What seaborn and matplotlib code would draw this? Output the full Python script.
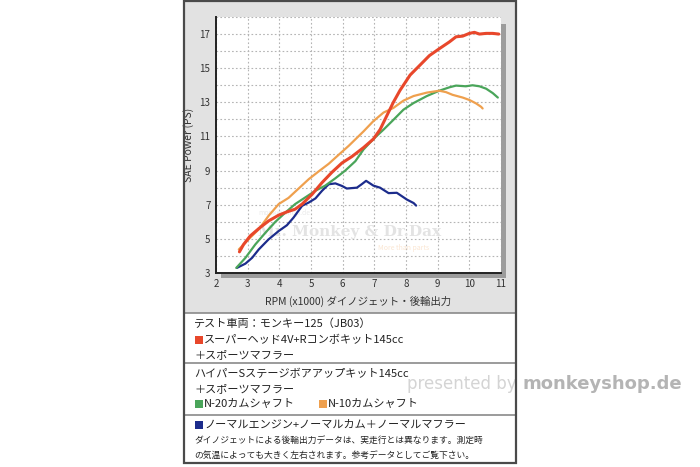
import matplotlib
matplotlib.use("Agg")
from matplotlib import pyplot as plt
from matplotlib.patches import Rectangle
from matplotlib.ticker import MultipleLocator
import pandas as pd
import seaborn as sns

# dyno curves (rpm x1000, PS)
red_rpm = [2.74, 2.87, 3.08, 3.35, 3.66, 3.98, 4.24, 4.5, 4.72, 5.03, 5.35, 5.66, 5.98, 6.29, 6.66,
           6.97, 7.18, 7.39, 7.6, 7.81, 8.13, 8.42, 8.74, 9.05, 9.37, 9.58, 9.79, 10.0, 10.16, 10.32,
           10.53, 10.74, 10.93]
red_ps = [4.24, 4.67, 5.17, 5.6, 6.05, 6.39, 6.58, 6.74, 7.04, 7.6, 8.3, 8.9, 9.45, 9.82, 10.35,
          10.85, 11.4, 12.2, 13.0, 13.7, 14.6, 15.14, 15.74, 16.14, 16.54, 16.84, 16.88, 17.04, 17.1, 17.0,
          17.04, 17.04, 17.0]

green_rpm = [2.64, 2.93, 3.24, 3.56, 3.87, 4.19, 4.5, 4.82, 5.14, 5.45, 5.77, 6.08, 6.4, 6.66, 6.97,
             7.29, 7.6, 7.92, 8.24, 8.66, 9.05, 9.37, 9.58, 9.89, 10.1, 10.32, 10.53, 10.74, 10.9]
green_ps = [3.3, 3.89, 4.67, 5.36, 5.99, 6.54, 7.04, 7.43, 7.82, 8.12, 8.55, 9.0, 9.55, 10.24, 10.85,
            11.4, 11.97, 12.57, 12.96, 13.37, 13.68, 13.88, 13.98, 13.94, 14.0, 13.94, 13.8, 13.54, 13.28]

orange_rpm = [2.72, 3.08, 3.35, 3.66, 3.98, 4.29, 4.61, 4.93, 5.24, 5.56, 5.87, 6.19, 6.66, 6.97,
              7.29, 7.6, 7.92, 8.24, 8.66, 9.05, 9.26, 9.47, 9.79, 10.0, 10.21, 10.37, 10.42]
orange_ps = [4.38, 5.07, 5.56, 6.35, 7.04, 7.4, 7.95, 8.5, 8.95, 9.4, 9.92, 10.45, 11.3, 11.9,
             12.4, 12.67, 13.1, 13.37, 13.57, 13.68, 13.6, 13.44, 13.28, 13.14, 12.94, 12.74, 12.64]

blue_rpm = [2.66, 2.93, 3.14, 3.35, 3.66, 3.98, 4.24, 4.45, 4.72, 4.93, 5.14, 5.35, 5.56, 5.77,
            5.98, 6.13, 6.45, 6.6, 6.74, 6.97, 7.18, 7.45, 7.71, 8.03, 8.24, 8.32]
blue_ps = [3.3, 3.55, 3.89, 4.38, 4.97, 5.46, 5.8, 6.25, 6.94, 7.13, 7.37, 7.82, 8.2, 8.25,
           8.1, 7.95, 8.0, 8.2, 8.4, 8.12, 8.0, 7.68, 7.7, 7.3, 7.1, 6.95]

x_ticks = [2, 3, 4, 5, 6, 7, 8, 9, 10, 11]
y_ticks = [3, 5, 7, 9, 11, 13, 15, 17]

RED, GREEN, ORANGE, BLUE = "#e8472b", "#4aa55a", "#efa04e", "#1c2c8c"

sns.set_style("white")
plt.rcParams["font.family"] = ["Noto Sans CJK JP", "DejaVu Sans"]

W, H = 700, 467
fig = plt.figure(figsize=(7, 4.67), dpi=100)

def fx(px):
    return px / W

def fy(py):
    return 1 - py / H

def box(x0, y0, x1, y1, **kw):
    fig.patches.append(Rectangle((fx(x0), fy(y1)), fx(x1) - fx(x0), fy(y0) - fy(y1),
                                 transform=fig.transFigure, **kw))

# outer frame, gray chart panel and drop shadow
box(184, 1, 516, 463, fc="white", ec="none", zorder=0)
box(185, 1, 515, 313, fc="#e2e2e2", ec="none", zorder=0)
box(221, 24, 506, 278, fc="#9c9c9c", ec="none", zorder=0)
for sep in [313, 363, 415]:
    fig.add_artist(plt.Line2D([fx(185), fx(515)], [fy(sep), fy(sep)], color="#8a8a8a", lw=1.2))
box(184, 1, 516, 463, fc="none", ec="#4a4a4a", lw=1.6, zorder=5)

ax = fig.add_axes([fx(216), fy(273), fx(501) - fx(216), fy(17) - fy(273)])
ax.set_zorder(2)
ax.set_facecolor("white")

df = pd.concat([
    pd.DataFrame({"rpm": red_rpm, "ps": red_ps, "s": "red"}),
    pd.DataFrame({"rpm": green_rpm, "ps": green_ps, "s": "green"}),
    pd.DataFrame({"rpm": orange_rpm, "ps": orange_ps, "s": "orange"}),
    pd.DataFrame({"rpm": blue_rpm, "ps": blue_ps, "s": "blue"}),
])
widths = {"red": 2.2, "green": 1.6, "orange": 1.6, "blue": 1.6}
colors = {"red": RED, "green": GREEN, "orange": ORANGE, "blue": BLUE}
for name in ["blue", "green", "orange", "red"]:
    sns.lineplot(data=df[df.s == name], x="rpm", y="ps", color=colors[name],
                 lw=widths[name], ax=ax, legend=False, sort=False, zorder=3)

# faint watermark inside the plot
ax.text(6.23, 5.4, "Mr. Monkey & Dr.Dax", fontsize=11, fontweight="bold", family="DejaVu Serif",
        color="#e3e3e3", ha="center", va="center", zorder=1)
ax.text(3.35, 6.4, "monkeyshop.de", fontsize=5, color="#ebebeb", zorder=1)
ax.text(7.1, 4.35, "More than parts", fontsize=5, color="#fbe6d2", zorder=1)

ax.set_xlim(2, 11)
ax.set_ylim(3, 18)
ax.set_xticks(x_ticks)
ax.set_yticks(y_ticks)
ax.xaxis.set_minor_locator(MultipleLocator(1))
ax.yaxis.set_minor_locator(MultipleLocator(1))
ax.grid(which="both", color="#b4b4b4", ls=(0, (1.5, 2)), lw=0.8)
ax.tick_params(length=0, labelsize=7, colors="#333333", pad=4)
for side in ["top", "right"]:
    ax.spines[side].set_visible(False)
for side in ["left", "bottom"]:
    ax.spines[side].set_color("#222222")
    ax.spines[side].set_linewidth(1.4)
ax.set_xlabel("RPM (x1000) ダイノジェット・後輪出力", fontsize=7.5, color="#333333", labelpad=5)
ax.set_ylabel("SAE Power (PS)", fontsize=7.5, color="#333333", labelpad=4)

# legend / notes block
def line(px, py, s, size=8):
    fig.text(fx(px), fy(py), s, fontsize=size, color="#222222", va="center")

def square(px, py, c):
    box(px, py - 4, px + 8, py + 4, fc=c, ec="none", zorder=1)

line(194, 324, "テスト車両：モンキー125（JB03）")
square(195, 340, RED)
line(204, 340, "スーパーヘッド4V+Rコンボキット145cc")
line(194, 355, "＋スポーツマフラー")
line(194, 374, "ハイパーSステージボアアップキット145cc")
line(194, 389, "＋スポーツマフラー")
square(195, 404, GREEN)
line(204, 404, "N-20カムシャフト")
square(319, 404, ORANGE)
line(328, 404, "N-10カムシャフト")
square(195, 425, BLUE)
line(204, 425, "ノーマルエンジン+ノーマルカム＋ノーマルマフラー")
line(194, 441, "ダイノジェットによる後輪出力データは、実走行とは異なります。測定時", 6.3)
line(194, 455, "の気温によっても大きく左右されます。参考データとしてご覧下さい。", 6.3)

# watermark on the right
fig.text(fx(407), fy(384), "presented by", fontsize=12, color="#d4d4d4", va="center",
         family="DejaVu Sans")
fig.text(fx(523), fy(384), "monkeyshop.de", fontsize=13, color="#b4b4b4", va="center",
         family="DejaVu Sans", fontweight="bold")

plt.savefig("out.png", dpi=100)
